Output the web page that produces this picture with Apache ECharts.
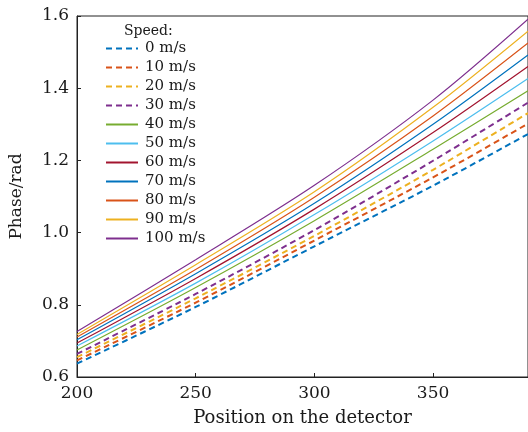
<!DOCTYPE html>
<html>
<head>
<meta charset="utf-8">
<script src="https://cdn.jsdelivr.net/npm/echarts@6/dist/echarts.min.js"></script>
<style>
  html, body { margin: 0; padding: 0; background: #fff; }
  #chart { width: 528px; height: 432px; }
</style>
</head>
<body>
<div id="chart"></div>
<script>
// positions on the detector where values were read
const positions = [200, 250, 300, 350, 390];

const speeds = ['0 m/s', '10 m/s', '20 m/s', '30 m/s', '40 m/s', '50 m/s',
  '60 m/s', '70 m/s', '80 m/s', '90 m/s', '100 m/s'];

// phase (rad) per speed
const phase0 = [0.637, 0.794, 0.962, 1.130, 1.273];
const phase10 = [0.646, 0.806, 0.978, 1.153, 1.302];
const phase20 = [0.655, 0.818, 0.991, 1.174, 1.331];
const phase30 = [0.664, 0.830, 1.007, 1.199, 1.360];
const phase40 = [0.675, 0.848, 1.033, 1.231, 1.393];
const phase50 = [0.686, 0.860, 1.050, 1.254, 1.427];
const phase60 = [0.694, 0.873, 1.065, 1.277, 1.460];
const phase70 = [0.703, 0.886, 1.081, 1.300, 1.492];
const phase80 = [0.711, 0.898, 1.098, 1.323, 1.525];
const phase90 = [0.718, 0.911, 1.113, 1.347, 1.558];
const phase100 = [0.726, 0.925, 1.131, 1.367, 1.591];

const allPhases = [phase0, phase10, phase20, phase30, phase40, phase50,
  phase60, phase70, phase80, phase90, phase100];

const colors = ['#0072BD', '#D95319', '#EDB120', '#7E2F8E', '#77AC30', '#4DBEEE',
  '#A2142F', '#0072BD', '#D95319', '#EDB120', '#7E2F8E'];

const font = '"DejaVu Serif", "Liberation Serif", serif';
const ink = '#1a1a1a';

const chart = echarts.init(document.getElementById('chart'));

const series = speeds.map((name, i) => {
  const dashed = i < 4;
  return {
    name: name,
    type: 'line',
    data: positions.map((x, j) => [x, allPhases[i][j]]),
    smooth: 0.3,
    symbol: 'none',
    lineStyle: {
      color: colors[i],
      width: dashed ? 2 : 1.2,
      type: dashed ? [6, 4] : 'solid'
    },
    itemStyle: { color: colors[i] }
  };
});

const option = {
  backgroundColor: '#fff',
  animation: false,
  color: colors,
  title: {
    text: 'Speed:',
    left: 119,
    top: 19,
    textStyle: { fontFamily: font, fontSize: 14, fontWeight: 'normal', color: ink }
  },
  legend: {
    orient: 'vertical',
    left: 100,
    top: 36,
    itemWidth: 32,
    itemHeight: 12,
    itemGap: 4,
    data: speeds,
    itemStyle: { opacity: 0 },
    textStyle: { fontFamily: font, fontSize: 15, color: ink, padding: [0, 0, 0, 2] }
  },
  grid: {
    left: 76,
    right: -1,
    top: 16,
    bottom: 54,
    show: true,
    borderColor: '#222',
    borderWidth: 1
  },
  xAxis: {
    type: 'value',
    min: 200,
    max: 390,
    interval: 50,
    name: 'Position on the detector',
    nameLocation: 'middle',
    nameGap: 32,
    nameTextStyle: { fontFamily: font, fontSize: 18, color: ink },
    axisLine: { show: true, lineStyle: { color: '#222' } },
    axisTick: { inside: true, length: 4, lineStyle: { color: '#222' } },
    axisLabel: { fontFamily: font, fontSize: 17, color: ink, margin: 8, showMaxLabel: false },
    splitLine: { show: false }
  },
  yAxis: {
    type: 'value',
    min: 0.6,
    max: 1.6,
    interval: 0.2,
    name: 'Phase/rad',
    nameLocation: 'middle',
    nameGap: 52,
    nameTextStyle: { fontFamily: font, fontSize: 17, color: ink },
    axisLine: { show: true, lineStyle: { color: '#222' } },
    axisTick: { inside: true, length: 4, lineStyle: { color: '#222' } },
    axisLabel: {
      fontFamily: font, fontSize: 17, color: ink, margin: 8,
      formatter: v => v.toFixed(1)
    },
    splitLine: { show: false }
  },
  series: series
};

chart.setOption(option);
</script>
</body>
</html>
